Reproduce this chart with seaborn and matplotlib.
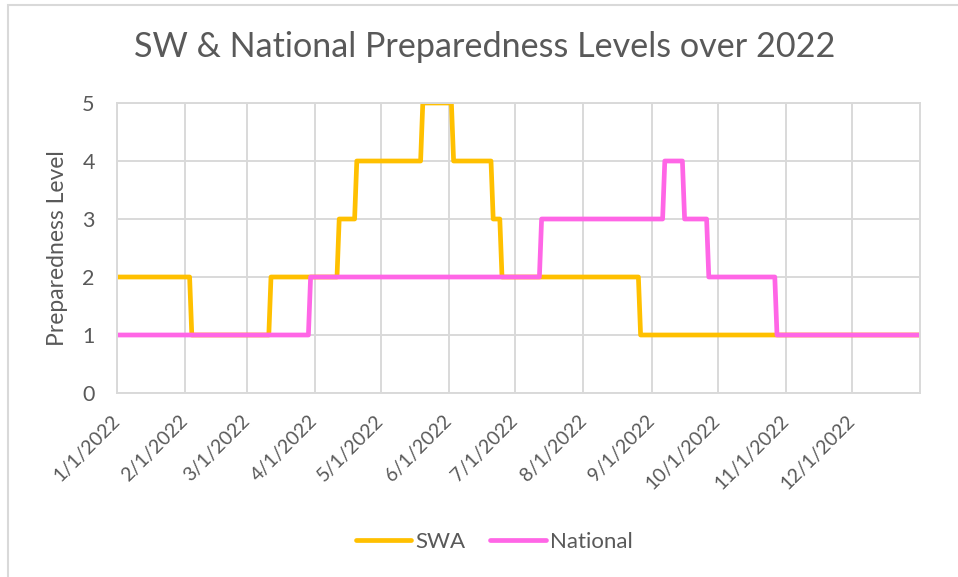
#!/usr/bin/env python3

import pandas as pd
import matplotlib.pyplot as plt
from matplotlib.patches import Rectangle
import seaborn as sns

# vertices of each step line (date, level)
swa_dates = ['2022-01-01', '2022-02-03', '2022-02-04', '2022-03-11', '2022-03-12',
             '2022-04-11', '2022-04-12', '2022-04-19', '2022-04-20', '2022-05-19',
             '2022-05-20', '2022-06-02', '2022-06-03', '2022-06-20', '2022-06-21',
             '2022-06-24', '2022-06-25', '2022-08-26', '2022-08-27', '2023-01-01']
swa_levels = [2, 2, 1, 1, 2, 2, 3, 3, 4, 4, 5, 5, 4, 4, 3, 3, 2, 2, 1, 1]

nat_dates = ['2022-01-01', '2022-03-29', '2022-03-30', '2022-07-12', '2022-07-13',
             '2022-09-06', '2022-09-07', '2022-09-15', '2022-09-16', '2022-09-26',
             '2022-09-27', '2022-10-27', '2022-10-28', '2023-01-01']
nat_levels = [1, 1, 2, 2, 3, 3, 4, 4, 3, 3, 2, 2, 1, 1]

series_names = ['SWA', 'National']
tick_labels = ['1/1/2022', '2/1/2022', '3/1/2022', '4/1/2022', '5/1/2022', '6/1/2022',
               '7/1/2022', '8/1/2022', '9/1/2022', '10/1/2022', '11/1/2022', '12/1/2022']

df = pd.concat([
    pd.DataFrame({'date': pd.to_datetime(swa_dates), 'level': swa_levels, 'series': 'SWA'}),
    pd.DataFrame({'date': pd.to_datetime(nat_dates), 'level': nat_levels, 'series': 'National'}),
])

sns.set_style('white')
plt.rcParams['font.family'] = ['Lato', 'DejaVu Sans']
txt = '#595959'
grid = '#D9D9D9'

fig = plt.figure(figsize=(9.58, 5.77), dpi=100)
ax = fig.add_axes([117 / 958, 1 - 393 / 577, (920 - 117) / 958, (393 - 103) / 577])

sns.lineplot(data=df, x='date', y='level', hue='series', hue_order=series_names,
             palette={'SWA': '#FFC000', 'National': '#FF66E6'},
             estimator=None, linewidth=3.4, ax=ax, legend=True)

ax.set_xlim(pd.Timestamp('2022-01-01'), pd.Timestamp('2023-01-01'))
ax.set_ylim(0, 5)
ax.set_yticks(range(6))
ticks = pd.to_datetime([f'2022-{m:02d}-01' for m in range(1, 13)])
ax.set_xticks(ticks)
ax.set_xticklabels(tick_labels, rotation=45, ha='right', rotation_mode='anchor', va='center')
ax.grid(True, color=grid, linewidth=1.4)
for s in ax.spines.values():
    s.set_color(grid)
    s.set_linewidth(1.4)
ax.tick_params(axis='x', colors=grid, labelcolor=txt, labelsize=14, length=6, width=1.4, pad=12)
ax.tick_params(axis='y', labelcolor=txt, labelsize=15.5, length=0, pad=16)
ax.set_xlabel('')
ax.set_ylabel('Preparedness Level', color=txt, fontsize=16.5, labelpad=10)

fig.text(0.506, 1 - 47 / 577, 'SW & National Preparedness Levels over 2022',
         ha='center', va='center', fontsize=24.6, color=txt)

handles, labels = ax.get_legend_handles_labels()
leg = fig.legend(handles, labels, loc='center', bbox_to_anchor=(0.516, 1 - 542 / 577),
                 ncol=2, frameon=False, fontsize=16, handlelength=2.5,
                 handletextpad=0.2, columnspacing=1.1)
for t in leg.get_texts():
    t.set_color(txt)
ax.get_legend().remove()

fig.patches.append(Rectangle((8 / 958, -0.1), 1.1, 1.1 - 5 / 577,
                             transform=fig.transFigure, fill=False,
                             edgecolor=grid, linewidth=1.5))

plt.savefig('out.png', dpi=100)
plt.close()
